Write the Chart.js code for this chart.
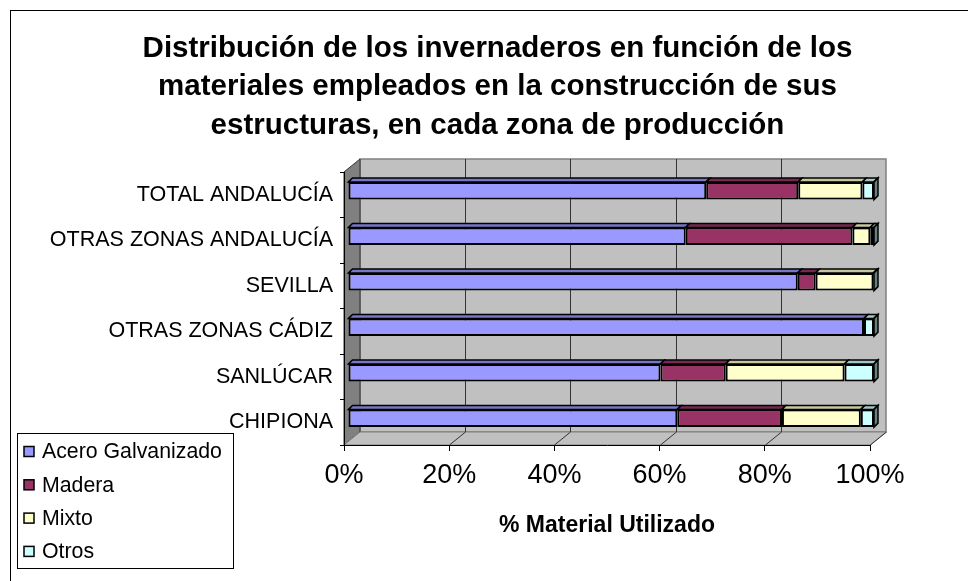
<!DOCTYPE html>
<html>
<head>
<meta charset="utf-8">
<script src="https://cdn.jsdelivr.net/npm/chart.js@4.4.1/dist/chart.umd.min.js"></script>
<style>
html,body{margin:0;padding:0;background:#fff;overflow:hidden;width:968px;height:581px}
#wrap{position:absolute;left:0;top:0;width:986px;height:600px}
</style>
</head>
<body>
<div id="wrap"><canvas id="c" width="986" height="600"></canvas></div>
<script>
// ---- data ----
const categories = ['TOTAL ANDALUCÍA', 'OTRAS ZONAS ANDALUCÍA', 'SEVILLA', 'OTRAS ZONAS CÁDIZ', 'SANLÚCAR', 'CHIPIONA'];
const seriesNames = ['Acero Galvanizado', 'Madera', 'Mixto', 'Otros'];
const acero  = [68.1, 64.2, 85.5, 98.1, 59.4, 62.6];
const madera = [17.5, 31.7, 3.4, 0, 12.4, 19.9];
const mixto  = [12.2, 3.4, 11.0, 0, 22.6, 15.0];
const otros  = [2.2, 0.7, 0.1, 1.9, 5.6, 2.5];
const xTickValues = [0, 20, 40, 60, 80, 100];
const titleLines = ['Distribución de los invernaderos en función de los', 'materiales empleados en la construcción de sus', 'estructuras, en cada zona de producción'];
const axisTitle = '% Material Utilizado';

// ---- styling ----
const FONT = '"Liberation Sans", Arial, sans-serif';
const colors = ['#9999FF', '#993366', '#FFFFCC', '#CCFFFF'];
const WALL = {x: 16, y: -13};   // depth of the 3D walls
const BAR = {x: 4, y: -4, d: 4}; // bar offset and depth

function shade(hex, f) {
  const n = parseInt(hex.slice(1), 16);
  const r = Math.round(((n >> 16) & 255) * f), g = Math.round(((n >> 8) & 255) * f), b = Math.round((n & 255) * f);
  return 'rgb(' + r + ',' + g + ',' + b + ')';
}
function poly(ctx, pts, fill, stroke, lw) {
  ctx.beginPath();
  ctx.moveTo(pts[0][0], pts[0][1]);
  for (let i = 1; i < pts.length; i++) ctx.lineTo(pts[i][0], pts[i][1]);
  ctx.closePath();
  if (fill) { ctx.fillStyle = fill; ctx.fill(); }
  if (stroke) { ctx.strokeStyle = stroke; ctx.lineWidth = lw || 1; ctx.stroke(); }
}

const threeD = {
  id: 'threeD',
  beforeDraw(chart) {
    const {ctx, chartArea: a, scales: {x}} = chart;
    ctx.save();
    // outer frame
    ctx.strokeStyle = '#000'; ctx.lineWidth = 1;
    ctx.strokeRect(10.5, 10.5, 1000, 700);
    // back wall
    poly(ctx, [[a.left + WALL.x, a.top + WALL.y], [a.right + WALL.x, a.top + WALL.y], [a.right + WALL.x, a.bottom + WALL.y], [a.left + WALL.x, a.bottom + WALL.y]], '#c0c0c0', '#808080', 1.5);
    // side wall
    poly(ctx, [[a.left, a.top], [a.left + WALL.x, a.top + WALL.y], [a.left + WALL.x, a.bottom + WALL.y], [a.left, a.bottom]], '#808080', '#333', 1);
    // floor
    poly(ctx, [[a.left, a.bottom], [a.left + WALL.x, a.bottom + WALL.y], [a.right + WALL.x, a.bottom + WALL.y], [a.right, a.bottom]], '#c0c0c0', '#808080', 1);
    // grid lines on back wall and floor
    ctx.strokeStyle = '#333'; ctx.lineWidth = 1;
    x.ticks.forEach(t => {
      if (t.value <= 0) return;
      const px = Math.round(x.getPixelForValue(t.value)) + 0.5;
      ctx.beginPath();
      if (t.value < 100) {
        ctx.moveTo(px + WALL.x, a.top + WALL.y);
        ctx.lineTo(px + WALL.x, a.bottom + WALL.y);
      }
      ctx.moveTo(px, a.bottom);
      ctx.lineTo(px + WALL.x, a.bottom + WALL.y);
      ctx.stroke();
    });
    ctx.restore();
  },
  beforeDatasetsDraw(chart) {
    chart.ctx.save();
    chart.ctx.translate(BAR.x, BAR.y);
  },
  afterDatasetsDraw(chart) {
    const ctx = chart.ctx;
    const d = BAR.d;
    const ends = {};
    chart.data.datasets.forEach((ds, i) => {
      const meta = chart.getDatasetMeta(i);
      meta.data.forEach((el, j) => {
        const p = el.getProps(['x', 'y', 'base', 'height'], true);
        const xl = Math.min(p.x, p.base), xr = Math.max(p.x, p.base);
        if (xr - xl < 0.01) return;
        const top = p.y - p.height / 2;
        poly(ctx, [[xl, top], [xl + d, top - d], [xr + d, top - d], [xr, top]], shade(ds.backgroundColor, 0.78), '#000', 1.5);
        if (!ends[j] || xr > ends[j].xr) ends[j] = {xr, top, bottom: p.y + p.height / 2, color: ds.backgroundColor};
      });
    });
    Object.values(ends).forEach(e => {
      poly(ctx, [[e.xr, e.top], [e.xr + d, e.top - d], [e.xr + d, e.bottom - d], [e.xr, e.bottom]], shade(e.color, 0.5), '#000', 1.5);
    });
    ctx.restore();
  },
  afterDraw(chart) {
    const ctx = chart.ctx;
    ctx.save();
    const lx = 17, ly = 433, lw = 216, lh = 135;
    ctx.fillStyle = '#fff';
    ctx.fillRect(lx, ly, lw, lh);
    ctx.strokeStyle = '#000'; ctx.lineWidth = 1;
    ctx.strokeRect(lx + 0.5, ly + 0.5, lw, lh);
    ctx.font = '21.3px ' + FONT;
    ctx.textBaseline = 'middle';
    ctx.textAlign = 'left';
    chart.data.datasets.forEach((ds, i) => {
      const cy = 451.5 + i * 33.3;
      ctx.fillStyle = ds.backgroundColor;
      ctx.fillRect(24, cy - 5, 10, 10);
      ctx.lineWidth = 1.5; ctx.strokeStyle = '#000';
      ctx.strokeRect(24, cy - 5, 10, 10);
      ctx.fillStyle = '#000';
      ctx.fillText(ds.label, 42, cy + 1);
    });
    ctx.restore();
  }
};

const seriesValues = [acero, madera, mixto, otros];
const datasets = seriesNames.map((name, i) => ({
  label: name,
  data: seriesValues[i],
  backgroundColor: colors[i],
  borderColor: '#000',
  borderWidth: 2,
  borderSkipped: false,
  barPercentage: 0.39,
  categoryPercentage: 1
}));

new Chart(document.getElementById('c'), {
  type: 'bar',
  data: {labels: categories, datasets},
  plugins: [threeD],
  options: {
    indexAxis: 'y',
    responsive: false,
    animation: false,
    devicePixelRatio: 1,
    layout: {padding: {top: 10, left: 10, right: 1, bottom: 61}},
    plugins: {
      legend: {display: false},
      tooltip: {enabled: false},
      title: {
        display: true,
        text: titleLines,
        color: '#000',
        font: {family: FONT, size: 29.5, weight: 'bold', lineHeight: '38.5px'},
        padding: {top: 19.5, bottom: 27}
      }
    },
    scales: {
      x: {
        stacked: true,
        min: 0, max: 100,
        afterBuildTicks(s) { s.ticks = xTickValues.map(v => ({value: v})); },
        ticks: {stepSize: 20, callback: v => v + '%', color: '#000', font: {family: FONT, size: 27}, padding: 8, maxRotation: 0, autoSkip: false},
        grid: {drawOnChartArea: false, drawTicks: true, tickLength: 6, color: '#000'},
        border: {display: true, color: '#000', width: 1},
        title: {display: true, text: axisTitle, color: '#000', font: {family: FONT, size: 23, weight: 'bold'}, padding: {top: 0, bottom: 0}},
        afterFit(s) { s.height = 94; }
      },
      y: {
        stacked: true,
        ticks: {color: '#000', font: {family: FONT, size: 21.5}, padding: 7, autoSkip: false},
        grid: {drawOnChartArea: false, drawTicks: true, tickLength: 4, color: '#000', offset: true},
        border: {display: true, color: '#000', width: 1},
        afterFit(s) { s.width = 334; }
      },
      ySpacer: {
        type: 'linear',
        axis: 'y',
        position: 'right',
        display: true,
        ticks: {display: false},
        grid: {display: false, drawTicks: false},
        border: {display: false},
        afterFit(s) { s.width = 115; }
      }
    }
  }
});
</script>
</body>
</html>
